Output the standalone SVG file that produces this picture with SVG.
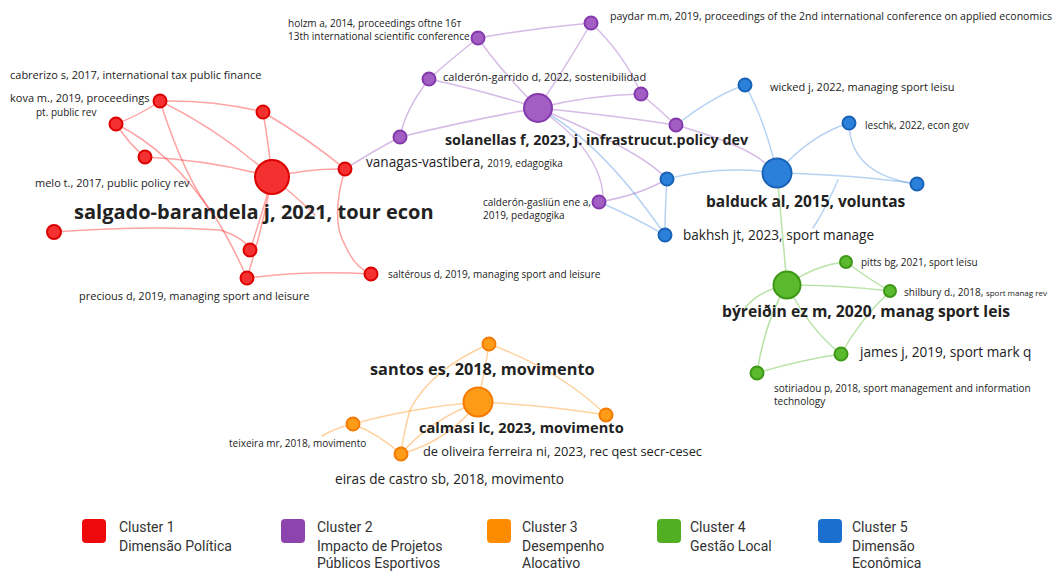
<svg xmlns="http://www.w3.org/2000/svg" width="1058" height="571" viewBox="0 0 1058 571">
<style>
text{font-family:"Open Sans","Liberation Sans",sans-serif;fill:#222}
.s{font-size:11px}
.xs{font-size:10px}
.m{font-size:13.6px}
.b{font-weight:bold}
.lg{font-family:Roboto,"Liberation Sans",sans-serif;font-size:14px;fill:#333}
.e{fill:none;stroke-width:1.5;stroke-linecap:round}
.er{stroke:#f33;stroke-opacity:.45}
.ep{stroke:#a569c9;stroke-opacity:.45}
.eb{stroke:#4a90e2;stroke-opacity:.4}
.eg{stroke:#62bf3a;stroke-opacity:.45}
.eo{stroke:#ff9a2a;stroke-opacity:.45}
.nr{fill:#f53030;stroke:#dc0000;stroke-width:2}
.np{fill:#a35ec4;stroke:#8439ac;stroke-width:2}
.nb{fill:#2b80d9;stroke:#1a62b5;stroke-width:2}
.ng{fill:#5ab92c;stroke:#3e9716;stroke-width:2}
.no{fill:#ff9c17;stroke:#f27a00;stroke-width:2}
</style>
<rect width="1058" height="571" fill="#fff"/>
<g id="connectors">
<path class="e er" d="M272,177 Q220,130 160,101"/>
<path class="e er" d="M272,177 Q268,140 263,112"/>
<path class="e er" d="M272,177 Q210,160 145,157"/>
<path class="e er" d="M272,177 Q310,168 345,169"/>
<path class="e er" d="M272,177 Q262,215 250,250"/>
<path class="e er" d="M272,177 Q262,230 247,278"/>
<path class="e er" d="M272,177 Q300,200 315,215"/>
<path class="e er" d="M160,101 Q215,100 263,112"/>
<path class="e er" d="M160,101 Q140,115 116,124"/>
<path class="e er" d="M116,124 Q130,145 145,157"/>
<path class="e er" d="M160,101 Q185,180 215,217 Q230,240 247,278"/>
<path class="e er" d="M54,232 Q150,225 220,230 Q245,238 250,250"/>
<path class="e er" d="M263,112 Q310,140 345,169"/>
<path class="e er" d="M345,169 Q330,220 345,245 Q355,268 371,274"/>
<path class="e er" d="M247,278 Q310,270 371,274"/>
<path class="e er" d="M116,124 Q170,150 215,217"/>
<path class="e ep" d="M345,169 Q375,150 400,137"/>
<path class="e ep" d="M538,108 Q500,70 478,38"/>
<path class="e ep" d="M538,108 Q570,60 591,23"/>
<path class="e ep" d="M538,108 Q480,90 429,79"/>
<path class="e ep" d="M538,108 Q590,95 641,94"/>
<path class="e ep" d="M538,108 Q610,115 676,125"/>
<path class="e ep" d="M538,108 Q470,120 400,137"/>
<path class="e ep" d="M538,108 Q600,150 603,195"/>
<path class="e ep" d="M478,38 Q535,28 591,23"/>
<path class="e ep" d="M478,38 Q450,60 429,79"/>
<path class="e ep" d="M591,23 Q625,55 641,94"/>
<path class="e ep" d="M641,94 Q660,110 676,125"/>
<path class="e ep" d="M429,79 Q405,110 400,137"/>
<path class="e ep" d="M538,108 Q640,150 667,179"/>
<path class="e ep" d="M599,202 Q640,195 667,179"/>
<path class="e eb" d="M676,125 Q715,95 745,85"/>
<path class="e eb" d="M538,108 Q600,140 665,235"/>
<path class="e eb" d="M599,202 Q630,215 665,235"/>
<path class="e eb" d="M777,173 Q765,120 745,85"/>
<path class="e eb" d="M777,173 Q810,135 849,123"/>
<path class="e eb" d="M777,173 Q860,175 917,184"/>
<path class="e eb" d="M849,123 Q850,175 917,184"/>
<path class="e eb" d="M777,173 Q720,165 667,179"/>
<path class="e eb" d="M667,179 Q665,210 665,235"/>
<path class="e eb" d="M838,180 Q825,210 813,228"/>
<path class="e ep" d="M676,125 Q745,145 765,163"/>
<path class="e eg" d="M777,173 Q782,230 787,285"/>
<path class="e eg" d="M787,285 Q815,265 846,262"/>
<path class="e eg" d="M846,262 Q870,280 890,291"/>
<path class="e eg" d="M787,285 Q840,285 890,291"/>
<path class="e eg" d="M787,285 Q810,330 841,354"/>
<path class="e eg" d="M890,291 Q860,320 841,354"/>
<path class="e eg" d="M787,285 Q765,320 757,373"/>
<path class="e eg" d="M757,373 Q800,360 841,354"/>
<path class="e eg" d="M787,285 Q760,290 745,308"/>
<path class="e eo" d="M478,402 Q485,370 489,344"/>
<path class="e eo" d="M478,402 Q545,405 606,415"/>
<path class="e eo" d="M478,402 Q410,408 353,424"/>
<path class="e eo" d="M478,402 Q430,420 401,454"/>
<path class="e eo" d="M489,344 Q560,370 606,415"/>
<path class="e eo" d="M489,344 Q430,370 410,410 Q403,435 401,454"/>
<path class="e eo" d="M353,424 Q380,435 401,454"/>
<path class="e eo" d="M353,424 Q335,428 322,436"/>
<path class="e eo" d="M401,454 Q450,440 478,402"/>
</g>
<g id="red-main"><circle class="nr" cx="272" cy="177" r="17"/><text x="74" y="219" class="b" font-size="20">salgado-barandela j, 2021, tour econ</text></g>
<g id="red-kova"><circle class="nr" cx="160" cy="101" r="6.5"/><text x="10" y="102" class="s">kova m., 2019, proceedings</text><text x="36" y="116" class="xs">pt. public rev</text></g>
<g id="red-cabrerizo"><circle class="nr" cx="263" cy="112" r="6.5"/><text x="10" y="79" class="s">cabrerizo s, 2017, international tax public finance</text></g>
<g id="red-3"><circle class="nr" cx="116" cy="124" r="6.5"/></g>
<g id="red-melo"><circle class="nr" cx="145" cy="157" r="6.5"/><text x="35" y="187" class="s">melo t., 2017, public policy rev</text></g>
<g id="red-vanagas"><circle class="nr" cx="345" cy="169" r="6.5"/><text x="366" y="167" class="m" font-size="13">vanagas-vastibera, <tspan class="xs">2019, edagogika</tspan></text></g>
<g id="red-6"><circle class="nr" cx="54" cy="232" r="7"/></g>
<g id="red-7"><circle class="nr" cx="250" cy="250" r="6.5"/></g>
<g id="red-precious"><circle class="nr" cx="247" cy="278" r="6.5"/><text x="79" y="300" class="s">precious d, 2019, managing sport and leisure</text></g>
<g id="red-salterous"><circle class="nr" cx="371" cy="274" r="6.5"/><text x="388" y="278" class="xs">saltérous d, 2019, managing sport and leisure</text></g>
<g id="purple-main"><circle class="np" cx="538" cy="108" r="14"/><text x="445" y="145" class="b" font-size="14.3">solanellas f, 2023, j. infrastrucut.policy dev</text></g>
<g id="purple-holzm"><circle class="np" cx="478" cy="38" r="6.5"/><text x="288" y="27" class="xs">holzm a, 2014, proceedings oftne 16т</text><text x="288" y="40" class="xs">13th international scientific conference</text></g>
<g id="purple-paydar"><circle class="np" cx="591" cy="23" r="6.5"/><text x="610" y="20" class="xs" textLength="442" lengthAdjust="spacingAndGlyphs">paydar m.m, 2019, proceedings of the 2nd international conference on applied economics</text></g>
<g id="purple-calderon-garrido"><circle class="np" cx="429" cy="79" r="6.5"/><text x="443" y="81" class="s">calderón-garrido d, 2022, sostenibilidad</text></g>
<g id="purple-4"><circle class="np" cx="641" cy="94" r="6.5"/></g>
<g id="purple-5"><circle class="np" cx="676" cy="125" r="6.5"/></g>
<g id="purple-6"><circle class="np" cx="400" cy="137" r="6.5"/></g>
<g id="purple-calderon-gasliun"><circle class="np" cx="599" cy="202" r="6.5"/><text x="483" y="206" class="xs">calderón-gasliün ene a,</text><text x="483" y="219" class="xs">2019, pedagogika</text></g>
<g id="blue-main"><circle class="nb" cx="777" cy="173" r="14.5"/><text x="706" y="207" class="b" font-size="15.5">balduck al, 2015, voluntas</text></g>
<g id="blue-wicked"><circle class="nb" cx="745" cy="85" r="6.5"/><text x="770" y="91" class="s">wicked j, 2022, managing sport leisu</text></g>
<g id="blue-leschk"><circle class="nb" cx="849" cy="123" r="6.5"/><text x="865" y="129" class="xs">leschk, 2022, econ gov</text></g>
<g id="blue-3"><circle class="nb" cx="917" cy="184" r="6.5"/></g>
<g id="blue-4"><circle class="nb" cx="667" cy="179" r="6.5"/></g>
<g id="blue-bakhsh"><circle class="nb" cx="665" cy="235" r="6.5"/><text x="683" y="240" class="m">bakhsh jt, 2023, sport manage</text></g>
<g id="green-main"><circle class="ng" cx="787" cy="285" r="13.5"/><text x="722" y="317" class="b" font-size="15.7">býreiðin ez m, 2020, manag sport leis</text></g>
<g id="green-pitts"><circle class="ng" cx="846" cy="262" r="6"/><text x="861" y="266" class="xs">pitts bg, 2021, sport leisu</text></g>
<g id="green-shilbury"><circle class="ng" cx="890" cy="291" r="6"/><text x="904" y="296" class="xs">shilbury d., 2018, <tspan font-size="8">sport manag rev</tspan></text></g>
<g id="green-james"><circle class="ng" cx="841" cy="354" r="6.5"/><text x="860" y="357" class="m">james j, 2019, sport mark q</text></g>
<g id="green-sotiriadou"><circle class="ng" cx="757" cy="373" r="6.5"/><text x="774" y="392" class="xs">sotiriadou p, 2018, sport management and information</text><text x="774" y="405" class="xs">technology</text></g>
<g id="orange-main"><circle class="no" cx="478" cy="402" r="14.5"/><text x="419" y="433" class="b" font-size="14.6">calmasi lc, 2023, movimento</text></g>
<g id="orange-santos"><circle class="no" cx="489" cy="344" r="6.5"/><text x="370" y="375" class="b" font-size="16.3">santos es, 2018, movimento</text></g>
<g id="orange-oliveira"><circle class="no" cx="606" cy="415" r="6.5"/><text x="423" y="456" font-size="12.8">de oliveira ferreira ni, 2023, rec qest secr-cesec</text></g>
<g id="orange-teixeira"><circle class="no" cx="353" cy="424" r="6.5"/><text x="229" y="447" class="xs">teixeira mr, 2018, movimento</text></g>
<g id="orange-eiras"><circle class="no" cx="401" cy="454" r="6.5"/><text x="335" y="484" class="m">eiras de castro sb, 2018, movimento</text></g>
<g id="legend">
<rect x="82" y="519" width="24" height="24" rx="4" fill="#ee0a0a"/>
<text x="119" y="532" class="lg">Cluster 1</text><text x="119" y="551" class="lg" font-size="13">Dimensão Política</text>
<rect x="281" y="519" width="24" height="24" rx="4" fill="#8e44ad"/>
<text x="317" y="532" class="lg">Cluster 2</text><text x="317" y="551" class="lg" font-size="13">Impacto de Projetos</text><text x="317" y="568" class="lg" font-size="13">Públicos Esportivos</text>
<rect x="487" y="519" width="24" height="24" rx="4" fill="#ff8c00"/>
<text x="522" y="532" class="lg">Cluster 3</text><text x="522" y="551" class="lg" font-size="13">Desempenho</text><text x="522" y="568" class="lg" font-size="13">Alocativo</text>
<rect x="657" y="519" width="24" height="24" rx="4" fill="#52ae22"/>
<text x="690" y="532" class="lg">Cluster 4</text><text x="690" y="551" class="lg" font-size="13">Gestão Local</text>
<rect x="818" y="519" width="24" height="24" rx="4" fill="#1a6fcf"/>
<text x="852" y="532" class="lg">Cluster 5</text><text x="852" y="551" class="lg" font-size="13">Dimensão</text><text x="852" y="568" class="lg" font-size="13">Econômica</text>
</g>
</svg>
